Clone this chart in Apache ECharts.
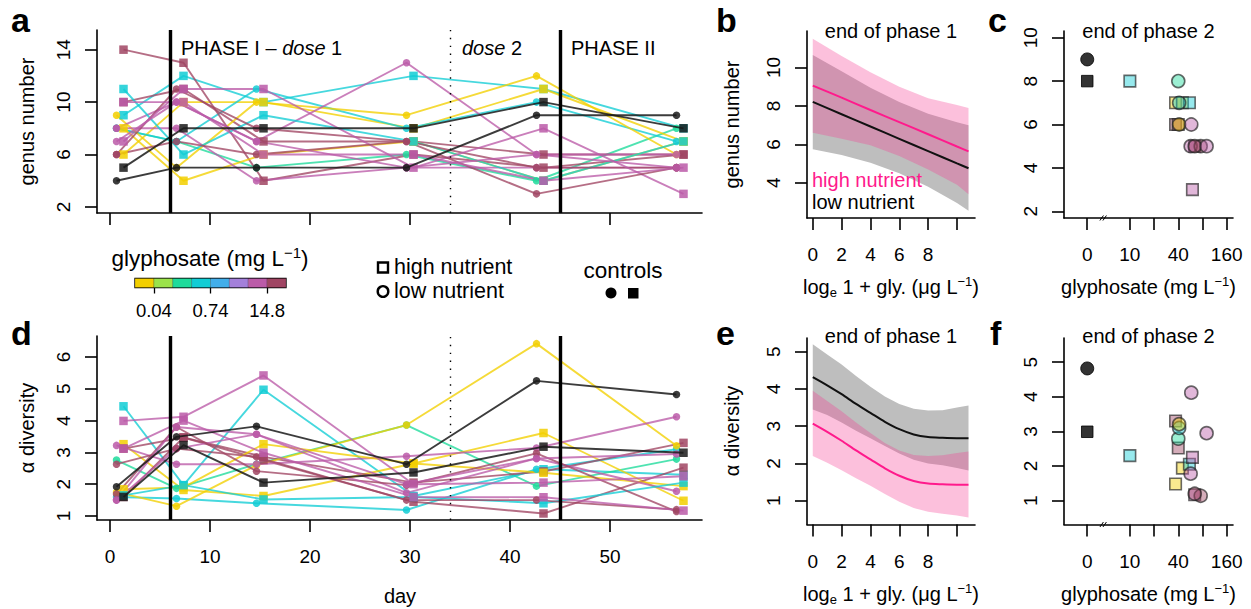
<!DOCTYPE html>
<html><head><meta charset="utf-8">
<script src="https://cdn.jsdelivr.net/npm/echarts@6/dist/echarts.min.js"></script>
<style>html,body{margin:0;padding:0;background:#fff}#c{width:1251px;height:609px}</style>
</head><body><div id="c"></div>
<script>
const FONT = "'Liberation Sans', Arial, Helvetica, sans-serif";

// ---------------- data ----------------
const days = [1, 7, 15, 30, 43, 57];
const phaseDays = [6, 45];
const dose2Day = 34;
const dayTicks = [0, 10, 20, 30, 40, 50];

const levelColors = ['#F2CF00', '#9BE34A', '#1EDB9B', '#12CDD5', '#42AEEA', '#A380DA', '#BB5BA8', '#A04563'];
const controlColor = '#1a1a1a';
const colorbarTicks = [1, 4, 7];
const colorbarLabels = ['0.04', '0.74', '14.8'];

// high nutrient mesocosms (squares); level -1 = control
const highLevel = [-1, 3, 0, 7, 7, 0, 3, 6, 6];
const highGly2 = [0, 10, 37, 37, 40, 45, 55, 60, 64];
// low nutrient mesocosms (circles)
const lowLevel = [-1, 2, 3, 0, 6, 6, 7, 7, 6];
const lowGly2 = [0, 40, 41, 41, 58, 57, 76, 64, 90];

const genusHigh = [
  [5, 8, 8, 8, 10, 8],
  [9, 12, 10, 12, 11, 8],
  [6, 10, 10, 8, 11, 7],
  [10, 11, 7, 7, 6, 6],
  [14, 13, 4, 6, 5, 6],
  [8, 4, 6, 7, 4, 7],
  [11, 6, 9, 7, 4, 7],
  [7, 11, 11, 5, 8, 3],
  [10, 10, 6, 6, 4, 5]
];
const genusLow = [
  [4, 5, 5, 5, 9, 9],
  [8, 7, 5, 6, 4, 8],
  [8, 7, 11, 8, 10, 7],
  [9, 5, 10, 9, 12, 6],
  [8, 10, 7, 13, 6, 6],
  [8, 8, 4, 5, 5, 5],
  [6, 11, 8, 7, 5, 5],
  [6, 7, 6, 7, 3, 5],
  [7, 10, 7, 5, 6, 5]
];
const alphaHigh = [
  [1.6, 3.23, 2.05, 2.37, 3.18, 2.99],
  [4.45, 1.97, 4.97, 1.63, 2.47, 2.3],
  [3.26, 1.82, 1.63, 2.65, 3.61, 1.48],
  [3.12, 3.47, 2.86, 2.05, 2.4, 3.3],
  [1.6, 3.47, 2.76, 1.45, 1.08, 2.52],
  [1.84, 1.9, 3.26, 2.65, 2.36, 1.94],
  [1.65, 1.97, 1.52, 1.6, 1.4, 2.05],
  [3.99, 4.12, 5.42, 2.0, 2.05, 2.25],
  [3.12, 4.0, 2.99, 1.6, 1.59, 1.17]
];
const alphaLow = [
  [1.92, 3.49, 3.82, 2.63, 5.25, 4.82],
  [2.76, 1.87, 2.63, 3.86, 1.94, 2.79],
  [1.6, 1.55, 1.4, 1.19, 2.47, 3.1],
  [1.75, 1.31, 2.6, 3.86, 6.42, 3.21],
  [3.22, 2.63, 2.63, 2.88, 3.14, 4.12],
  [1.5, 3.12, 3.57, 1.73, 2.81, 1.78],
  [1.69, 3.8, 2.41, 1.97, 2.97, 1.14],
  [2.63, 3.12, 2.86, 1.5, 1.5, 1.2],
  [1.5, 3.8, 3.57, 2.0, 2.81, 2.95]
];

// panel b: model fit, end of phase 1 (genus number)
const bX = [0, 2, 4, 6, 8, 10, 10.8];
const bHighFit = [9.06, 8.43, 7.79, 7.16, 6.53, 5.89, 5.64];
const bHighUpper = [11.5, 10.6, 9.75, 9.0, 8.4, 8.05, 7.9];
const bHighLower = [6.6, 6.3, 5.95, 5.4, 4.7, 3.9, 3.4];
const bLowFit = [8.21, 7.57, 6.93, 6.29, 5.65, 5.01, 4.76];
const bLowUpper = [10.65, 9.8, 8.95, 8.2, 7.6, 7.15, 7.0];
const bLowLower = [5.75, 5.45, 5.05, 4.5, 3.8, 2.95, 2.55];

// panel e: model fit, end of phase 1 (alpha diversity)
const eX = [0, 1, 2, 3, 4, 5, 6, 7, 8, 9, 10, 10.8];
const eLowFit = [4.32, 4.1, 3.86, 3.6, 3.36, 3.12, 2.92, 2.78, 2.71, 2.69, 2.68, 2.68];
const eLowUpper = [5.2, 4.93, 4.66, 4.35, 4.06, 3.8, 3.6, 3.47, 3.42, 3.43, 3.5, 3.56];
const eLowLower = [3.45, 3.3, 3.1, 2.88, 2.68, 2.47, 2.27, 2.1, 2.0, 1.95, 1.88, 1.81];
const eHighFit = [3.07, 2.85, 2.61, 2.35, 2.11, 1.87, 1.67, 1.53, 1.46, 1.44, 1.43, 1.43];
const eHighUpper = [3.95, 3.68, 3.4, 3.1, 2.82, 2.55, 2.35, 2.23, 2.2, 2.22, 2.28, 2.32];
const eHighLower = [2.2, 2.02, 1.82, 1.6, 1.4, 1.18, 0.97, 0.8, 0.7, 0.65, 0.6, 0.55];

// tick values
const aYTicks = [2, 6, 10, 14];
const dYTicks = [1, 2, 3, 4, 5, 6];
const bXTicks = [0, 2, 4, 6, 8, 10];
const bXLabels = [0, 2, 4, 6, 8];
const bYTicks = [4, 6, 8, 10];
const cYTicks = [2, 4, 6, 8, 10];
const eYTicks = [1, 2, 3, 4, 5];
const fYTicks = [1, 2, 3, 4, 5];
const glyTicks = [0, 10, 20, 40, 80, 160];
const glyLabels = [0, 10, 40, 160];

// ---------------- scales / helpers ----------------
const GLY_ZERO_POS = -1.76;   // axis position of the 0 (control) column
const GLY_BREAK_POS = -1.05;  // axis break marker
function gx(g) { return g === 0 ? GLY_ZERO_POS : Math.log2(g / 10); }
function rgba(hex, a) {
  const n = parseInt(hex.slice(1), 16);
  return 'rgba(' + ((n >> 16) & 255) + ',' + ((n >> 8) & 255) + ',' + (n & 255) + ',' + a + ')';
}
function colorOf(level) { return level < 0 ? controlColor : levelColors[level]; }

const AX = {color: '#000', width: 1.6};
function mkX(grid, min, max, ticks, labels, fmt, margin) {
  return {
    type: 'value', gridIndex: grid, min: min, max: max,
    splitLine: {show: false},
    axisLine: {show: true, onZero: false, lineStyle: AX},
    axisTick: {show: true, length: 12, customValues: ticks, lineStyle: AX},
    axisLabel: labels ? {show: true, customValues: labels, formatter: fmt || (v => String(v)),
      color: '#000', fontSize: 19, fontFamily: FONT, margin: margin || 27} : {show: false}
  };
}
function mkY(grid, min, max, ticks) {
  return {
    type: 'value', gridIndex: grid, min: min, max: max,
    splitLine: {show: false},
    axisLine: {show: true, onZero: false, lineStyle: AX},
    axisTick: {show: true, length: 12, customValues: ticks, lineStyle: AX},
    axisLabel: {show: true, customValues: ticks, rotate: 90, color: '#000', fontSize: 19,
      fontFamily: FONT, margin: 24, formatter: v => String(v)}
  };
}
function glyFmt(v) {
  for (const g of glyLabels) if (Math.abs(gx(g) - v) < 1e-6) return String(g);
  return '';
}

const grids = [
  {left: 97, top: 30, width: 605, height: 183},     // a
  {left: 97, top: 336, width: 605, height: 184},    // d
  {left: 807, top: 31, width: 168, height: 187},    // b
  {left: 1064, top: 31, width: 169, height: 187},   // c
  {left: 807, top: 338, width: 168, height: 186.5}, // e
  {left: 1064, top: 338, width: 169, height: 186.5},// f
  {left: 135, top: 278.5, width: 151, height: 9, show: true, borderColor: '#000', borderWidth: 1.3} // colorbar
];

const xAxes = [
  mkX(0, -1.3, 59.2, dayTicks, null),
  mkX(1, -1.3, 59.2, dayTicks, dayTicks),
  mkX(2, -0.4, 11.25, bXTicks, bXLabels),
  mkX(3, -2.72, 4.26, glyTicks.map(gx), glyLabels.map(gx), glyFmt),
  mkX(4, -0.4, 11.25, bXTicks, bXLabels),
  mkX(5, -2.72, 4.26, glyTicks.map(gx), glyLabels.map(gx), glyFmt),
  {type: 'value', gridIndex: 6, min: 0, max: 8, splitLine: {show: false},
    axisLine: {show: false},
    axisTick: {show: true, length: 6, customValues: colorbarTicks, lineStyle: {color: '#000', width: 1.3}},
    axisLabel: {show: true, customValues: colorbarTicks, margin: 13, color: '#000', fontSize: 18.5, fontFamily: FONT,
      formatter: v => colorbarLabels[colorbarTicks.indexOf(v)] || ''}}
];
const yAxes = [
  mkY(0, 1.54, 15.5, aYTicks),
  mkY(1, 0.875, 6.66, dYTicks),
  mkY(2, 2.17, 11.9, bYTicks),
  mkY(3, 1.69, 10.31, cYTicks),
  mkY(4, 0.36, 5.37, eYTicks),
  mkY(5, 0.31, 5.7, fYTicks),
  {type: 'value', gridIndex: 6, min: 0, max: 1, show: false}
];

const series = [];
function tsSeries(ax, vals, level, high) {
  const col = colorOf(level);
  return {
    type: 'line', xAxisIndex: ax, yAxisIndex: ax, silent: true,
    data: days.map((d, i) => [d + (high ? 0.35 : -0.35), vals[i]]),
    symbol: high ? 'rect' : 'circle', symbolSize: high ? 8.5 : 7.5,
    lineStyle: {color: col, width: 1.9, opacity: level < 0 ? 0.85 : 0.78},
    itemStyle: {color: col, opacity: 0.85},
    z: level < 0 ? 4 : 3
  };
}
const phaseMark = {
  silent: true, symbol: 'none', label: {show: false},
  data: [
    {xAxis: phaseDays[0], lineStyle: {color: '#000', width: 3.4, type: 'solid'}},
    {xAxis: phaseDays[1], lineStyle: {color: '#000', width: 3.4, type: 'solid'}},
    {xAxis: dose2Day, lineStyle: {color: '#000', width: 1.4, type: [1.4, 6.5]}}
  ]
};
[[0, genusHigh, genusLow], [1, alphaHigh, alphaLow]].forEach(([ax, hi, lo]) => {
  for (let i = 1; i < hi.length; i++) {
    series.push(tsSeries(ax, hi[i], highLevel[i], true));
    series.push(tsSeries(ax, lo[i], lowLevel[i], false));
  }
  series.push(tsSeries(ax, hi[0], highLevel[0], true));
  series.push(tsSeries(ax, lo[0], lowLevel[0], false));
  series.push({type: 'line', xAxisIndex: ax, yAxisIndex: ax, data: [], markLine: phaseMark, z: 5});
});

// model fit panels (b, e): confidence band polygon through the axis scales
function band(ax, xs, lower, upper, color) {
  series.push({type: 'custom', xAxisIndex: ax, yAxisIndex: ax, silent: true,
    data: xs.map((x, i) => [x, lower[i], upper[i]]),
    renderItem: (p, api) => {
      if (p.dataIndex !== 0) return null;
      const pts = [];
      for (let i = 0; i < xs.length; i++) pts.push(api.coord([xs[i], upper[i]]));
      for (let i = xs.length - 1; i >= 0; i--) pts.push(api.coord([xs[i], lower[i]]));
      return {type: 'polygon', shape: {points: pts}, style: {fill: color, stroke: 'none'}};
    }});
}
function fitLine(ax, xs, ys, color) {
  series.push({type: 'line', xAxisIndex: ax, yAxisIndex: ax, smooth: 0.3, silent: true,
    data: xs.map((x, i) => [x, ys[i]]), symbol: 'none', lineStyle: {color: color, width: 2}});
}
const GRAY = '#bebebe', PINKBAND = 'rgba(245,58,146,0.32)', PINK = '#FF1A8C', BLACK = '#111';
band(2, bX, bLowLower, bLowUpper, GRAY);
fitLine(2, bX, bLowFit, BLACK);
band(2, bX, bHighLower, bHighUpper, PINKBAND);
fitLine(2, bX, bHighFit, PINK);
band(4, eX, eLowLower, eLowUpper, GRAY);
fitLine(4, eX, eLowFit, BLACK);
band(4, eX, eHighLower, eHighUpper, PINKBAND);
fitLine(4, eX, eHighFit, PINK);

// end of phase 2 panels (c, f)
function endPoints(ax, gly, levels, source, high) {
  const data = gly.map((g, i) => {
    const ctrl = levels[i] < 0;
    return {
      value: [gx(g), source[i][source[i].length - 1]],
      itemStyle: ctrl ? {color: '#000', borderColor: '#000', borderWidth: 1}
        : {color: rgba(colorOf(levels[i]), 0.55), borderColor: 'rgba(35,35,35,0.85)', borderWidth: 1.6}
    };
  });
  series.push({type: 'scatter', xAxisIndex: ax, yAxisIndex: ax, silent: true, data: data,
    symbol: high ? 'rect' : 'circle', symbolSize: high ? 11.5 : 13, z: high ? 3 : 4});
}
endPoints(3, highGly2, highLevel, genusHigh, true);
endPoints(3, lowGly2, lowLevel, genusLow, false);
endPoints(5, highGly2, highLevel, alphaHigh, true);
endPoints(5, lowGly2, lowLevel, alphaLow, false);
function breakMark(ax, yMin) {
  series.push({type: 'custom', xAxisIndex: ax, yAxisIndex: ax, silent: true, z: 6,
    data: [[GLY_BREAK_POS, yMin]],
    renderItem: (p, api) => {
      const pt = api.coord([api.value(0), api.value(1)]);
      return {type: 'group', children: [
        {type: 'line', shape: {x1: pt[0] - 4.5, y1: pt[1] + 2.5, x2: pt[0] - 1, y2: pt[1] - 2.5}, style: {stroke: '#000', lineWidth: 1}},
        {type: 'line', shape: {x1: pt[0] - 1.5, y1: pt[1] + 2.5, x2: pt[0] + 2, y2: pt[1] - 2.5}, style: {stroke: '#000', lineWidth: 1}}
      ]};
    }});
}
breakMark(3, 1.69);
breakMark(5, 0.31);

// colour bar
series.push({type: 'custom', xAxisIndex: 6, yAxisIndex: 6, silent: true,
  data: levelColors.map((c, i) => [i]),
  renderItem: (p, api) => {
    const i = api.value(0);
    const p0 = api.coord([i, 1]), p1 = api.coord([i + 1, 0]);
    return {type: 'rect', shape: {x: p0[0], y: p0[1], width: p1[0] - p0[0], height: p1[1] - p0[1]},
      style: {fill: levelColors[i], stroke: 'rgba(0,0,0,0.35)', lineWidth: 0.6}};
  }});

// ---------------- texts ----------------
function txt(x, y, text, o) {
  o = o || {};
  const st = {text: text, fill: o.fill || '#000', fontSize: o.size || 20, fontFamily: FONT,
    fontWeight: o.weight || 'normal', fontStyle: o.style || 'normal',
    align: o.align || 'center', verticalAlign: o.va || 'middle'};
  if (o.lh) st.lineHeight = o.lh;
  if (o.rich) st.rich = o.rich;
  return {type: 'text', x: x, y: y, rotation: o.rot || 0, silent: true, z: 100, style: st};
}
function richSet(size) {
  return {
    n: {fontSize: size, fontFamily: FONT, lineHeight: size + 4, fill: '#000'},
    i: {fontSize: size, fontFamily: FONT, fontStyle: 'italic', lineHeight: size + 4, fill: '#000'},
    sup: {fontSize: Math.round(size * 0.65), fontFamily: FONT, lineHeight: Math.round(size * 0.7), verticalAlign: 'top', fill: '#000'},
    sub: {fontSize: Math.round(size * 0.65), fontFamily: FONT, lineHeight: Math.round(size * 0.6), verticalAlign: 'bottom', fill: '#000'}
  };
}
const R20 = richSet(20), R22 = richSet(22.5);
const logTitle = '{n|log}{sub|e}{n| 1 + gly. (μg L}{sup|−1}{n|)}';
const glyTitle = '{n|glyphosate (mg L}{sup|−1}{n|)}';
const HALF = Math.PI / 2;
const graphics = [
  // panel letters
  txt(11, 20, 'a', {size: 34, weight: 'bold', align: 'left'}),
  txt(716, 20, 'b', {size: 34, weight: 'bold', align: 'left'}),
  txt(988, 20, 'c', {size: 34, weight: 'bold', align: 'left'}),
  txt(11, 333, 'd', {size: 34, weight: 'bold', align: 'left'}),
  txt(716, 333, 'e', {size: 34, weight: 'bold', align: 'left'}),
  txt(990, 333, 'f', {size: 34, weight: 'bold', align: 'left'}),
  // panel a annotations
  txt(181, 48, '{n|PHASE I – }{i|dose}{n| 1}', {align: 'left', rich: R20}),
  txt(462, 48, '{i|dose}{n| 2}', {align: 'left', rich: R20}),
  txt(571, 48, 'PHASE II', {align: 'left'}),
  // axis titles
  txt(27, 121.5, 'genus number', {rot: HALF}),
  txt(27, 428, 'α diversity', {rot: HALF}),
  txt(400, 596, 'day'),
  txt(732, 124.5, 'genus number', {rot: HALF}),
  txt(732, 431, 'α diversity', {rot: HALF}),
  txt(891, 287, logTitle, {rich: R20}),
  txt(891, 594, logTitle, {rich: R20}),
  txt(1148.5, 287, glyTitle, {rich: R20}),
  txt(1148.5, 594, glyTitle, {rich: R20}),
  // panel titles
  txt(891, 31, 'end of phase 1'),
  txt(1148.5, 31, 'end of phase 2'),
  txt(891, 336, 'end of phase 1'),
  txt(1148.5, 336, 'end of phase 2'),
  // b legend
  txt(812, 180, 'high nutrient', {align: 'left', fill: PINK, lh: 20}),
  txt(812, 202, 'low nutrient', {align: 'left', lh: 20}),
  // middle legend
  txt(210, 258, glyTitle, {rich: R22}),
  {type: 'rect', silent: true, shape: {x: 378, y: 262.5, width: 10, height: 10}, style: {fill: '#fff', stroke: '#000', lineWidth: 2.4}},
  {type: 'circle', silent: true, shape: {cx: 383, cy: 291.5, r: 5.3}, style: {fill: '#fff', stroke: '#000', lineWidth: 2.4}},
  txt(394, 267, 'high nutrient', {align: 'left', size: 21.5, lh: 19}),
  txt(394, 291, 'low nutrient', {align: 'left', size: 21.5, lh: 19}),
  txt(623, 270, 'controls', {size: 22.5, lh: 20}),
  {type: 'circle', silent: true, shape: {cx: 611, cy: 293, r: 5.5}, style: {fill: '#000'}},
  {type: 'rect', silent: true, shape: {x: 628, y: 288, width: 10.5, height: 10.5}, style: {fill: '#000'}}
];

const chart = echarts.init(document.getElementById('c'), null, {renderer: 'svg'});
chart.setOption({
  backgroundColor: '#fff',
  animation: false,
  grid: grids,
  xAxis: xAxes,
  yAxis: yAxes,
  series: series,
  graphic: graphics
});
</script>
</body></html>
